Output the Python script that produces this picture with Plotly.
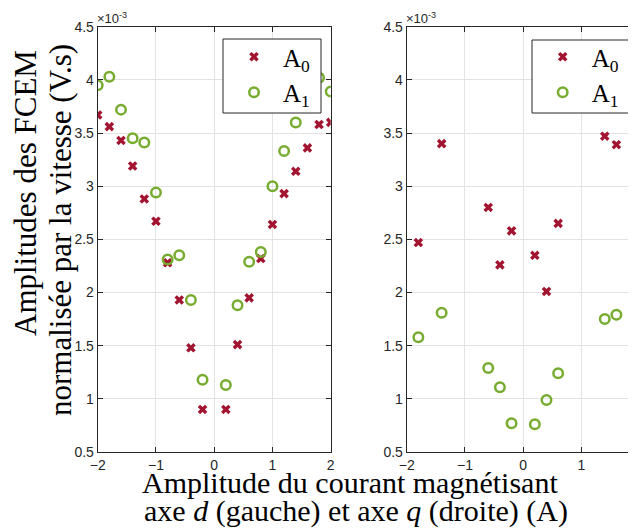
import plotly.graph_objects as go

# ---- data (values in units of 1e-3 V.s) ----
d_x_A0 = [-2.0, -1.8, -1.6, -1.4, -1.2, -1.0, -0.8, -0.6, -0.4, -0.2, 0.2, 0.4, 0.6, 0.8, 1.0, 1.2, 1.4, 1.6, 1.8, 2.0]
d_y_A0 = [3.67, 3.56, 3.43, 3.19, 2.88, 2.67, 2.28, 1.93, 1.48, 0.90, 0.90, 1.51, 1.95, 2.32, 2.64, 2.93, 3.14, 3.36, 3.58, 3.60]
d_x_A1 = [-2.0, -1.8, -1.6, -1.4, -1.2, -1.0, -0.8, -0.6, -0.4, -0.2, 0.2, 0.4, 0.6, 0.8, 1.0, 1.2, 1.4, 1.8, 2.0]
d_y_A1 = [3.95, 4.03, 3.72, 3.45, 3.41, 2.94, 2.31, 2.35, 1.93, 1.18, 1.13, 1.88, 2.29, 2.38, 3.00, 3.33, 3.60, 4.02, 3.89]

q_x_A0 = [-1.8, -1.4, -0.6, -0.4, -0.2, 0.2, 0.4, 0.6, 1.4, 1.6]
q_y_A0 = [2.47, 3.40, 2.80, 2.26, 2.58, 2.35, 2.01, 2.65, 3.47, 3.39]
q_x_A1 = [-1.8, -1.4, -0.6, -0.4, -0.2, 0.2, 0.4, 0.6, 1.4, 1.6]
q_y_A1 = [1.58, 1.81, 1.29, 1.11, 0.77, 0.76, 0.99, 1.24, 1.75, 1.79]

x_ticks = [-2, -1, 0, 1, 2]
y_ticks = [0.5, 1, 1.5, 2, 2.5, 3, 3.5, 4, 4.5]
y_tick_text = ["0.5", "1", "1.5", "2", "2.5", "3", "3.5", "4", "4.5"]
names = ["A<sub>0</sub>", "A<sub>1</sub>"]

RED = "#A2142F"
GREEN = "#77AC30"
AX = "#262626"
GRID = "#e3e3e3"
SERIF = "Liberation Serif"
SANS = "Liberation Sans"

W, H = 636, 531
OFF = 8  # page body margin: figure is drawn 8 px right/down of window origin

fig = go.Figure()

def add_pair(xa, ya, xb, yb, xaxis, yaxis, legend):
    fig.add_trace(go.Scatter(x=xa, y=ya, mode="markers", name=names[0],
                             xaxis=xaxis, yaxis=yaxis, legend=legend,
                             marker=dict(symbol="x", size=8.5, color=RED, line=dict(width=0))))
    fig.add_trace(go.Scatter(x=xb, y=yb, mode="markers", name=names[1],
                             xaxis=xaxis, yaxis=yaxis, legend=legend,
                             marker=dict(symbol="circle-open", size=9.5, color=GREEN,
                                         line=dict(width=2.5, color=GREEN))))

add_pair(d_x_A0, d_y_A0, d_x_A1, d_y_A1, "x", "y", "legend")
add_pair(q_x_A0, q_y_A0, q_x_A1, q_y_A1, "x2", "y2", "legend2")

# convert screen pixel positions to paper fractions
def px_x(p):
    return (p - OFF) / W

def px_y(p):
    return 1 - (p - OFF) / H

L_LEFT, L_RIGHT = 97.7, 330.7
R_LEFT = 406.7
unit = (L_RIGHT - L_LEFT) / 4.0
r_end = -2 + (W + OFF - R_LEFT) / unit

ydom = [px_y(452), px_y(26.7)]
xcommon = dict(tickvals=x_ticks, ticks="inside", ticklen=5, tickcolor=AX, tickwidth=1,
               showline=True, linecolor=AX, linewidth=1, mirror="ticks", automargin=False,
               showgrid=True, gridcolor=GRID, gridwidth=1, zeroline=False,
               tickfont=dict(family=SANS, size=14, color=AX))
ycommon = dict(tickvals=y_ticks, ticktext=y_tick_text, range=[0.5, 4.5],
               ticks="inside", ticklen=5, tickcolor=AX, tickwidth=1, automargin=False,
               showline=True, linecolor=AX, linewidth=1, mirror="ticks",
               showgrid=True, gridcolor=GRID, gridwidth=1, zeroline=False,
               tickfont=dict(family=SANS, size=14, color=AX), domain=ydom)

ITEMW = 48
SYM = (ITEMW + 10) / 2
leg_common = dict(xanchor="left", yanchor="top", bgcolor="rgba(0,0,0,0)", borderwidth=0,
                  itemwidth=ITEMW, font=dict(family=SERIF, size=25, color="black"))

fig.update_layout(
    width=W, height=H, margin=dict(l=0, r=0, t=0, b=0, pad=0, autoexpand=False),
    plot_bgcolor="white", paper_bgcolor="white",
    xaxis=dict(xcommon, domain=[px_x(L_LEFT), px_x(L_RIGHT)], range=[-2, 2], anchor="y"),
    yaxis=dict(ycommon, anchor="x"),
    xaxis2=dict(xcommon, domain=[px_x(R_LEFT), 1.0], range=[-2, r_end], anchor="y2"),
    yaxis2=dict(ycommon, anchor="x2"),
    legend=dict(leg_common, x=px_x(254 - SYM), y=px_y(34)),
    legend2=dict(leg_common, x=px_x(562.7 - SYM), y=px_y(34)),
)

# legend frames (white boxes drawn over the data, under the legend entries)
shapes = []
for (x0, y0, x1, y1) in [(223, 39, 321, 113), (532, 40, 629, 113)]:
    shapes.append(dict(type="rect", xref="paper", yref="paper",
                       x0=px_x(x0), x1=px_x(x1), y0=px_y(y1), y1=px_y(y0),
                       fillcolor="white", line=dict(color=AX, width=1), layer="above"))
fig.update_layout(shapes=shapes)

ann = []
for xp in (95, 404):
    ann.append(dict(x=px_x(xp), y=px_y(18), xref="paper", yref="paper", xanchor="left", yanchor="middle",
                    text="×10<sup>-3</sup>", showarrow=False,
                    font=dict(family=SANS, size=13, color=AX)))
ann.append(dict(x=px_x(25), y=px_y(193), xref="paper", yref="paper", textangle=-90,
                xanchor="center", yanchor="middle", showarrow=False,
                text="Amplitudes des FCEM", font=dict(family=SERIF, size=31, color="black")))
ann.append(dict(x=px_x(61), y=px_y(230), xref="paper", yref="paper", textangle=-90,
                xanchor="center", yanchor="middle", showarrow=False,
                text="normalisée par la vitesse (V.s)", font=dict(family=SERIF, size=31, color="black")))
ann.append(dict(x=px_x(350), y=px_y(482), xref="paper", yref="paper",
                xanchor="center", yanchor="middle", showarrow=False,
                text="Amplitude du courant magnétisant", font=dict(family=SERIF, size=30, color="black")))
ann.append(dict(x=px_x(356), y=px_y(511), xref="paper", yref="paper",
                xanchor="center", yanchor="middle", showarrow=False,
                text="axe <i>d</i> (gauche) et axe <i>q</i> (droite) (A)",
                font=dict(family=SERIF, size=30, color="black")))
fig.update_layout(annotations=ann)

fig.write_html("out.html")
